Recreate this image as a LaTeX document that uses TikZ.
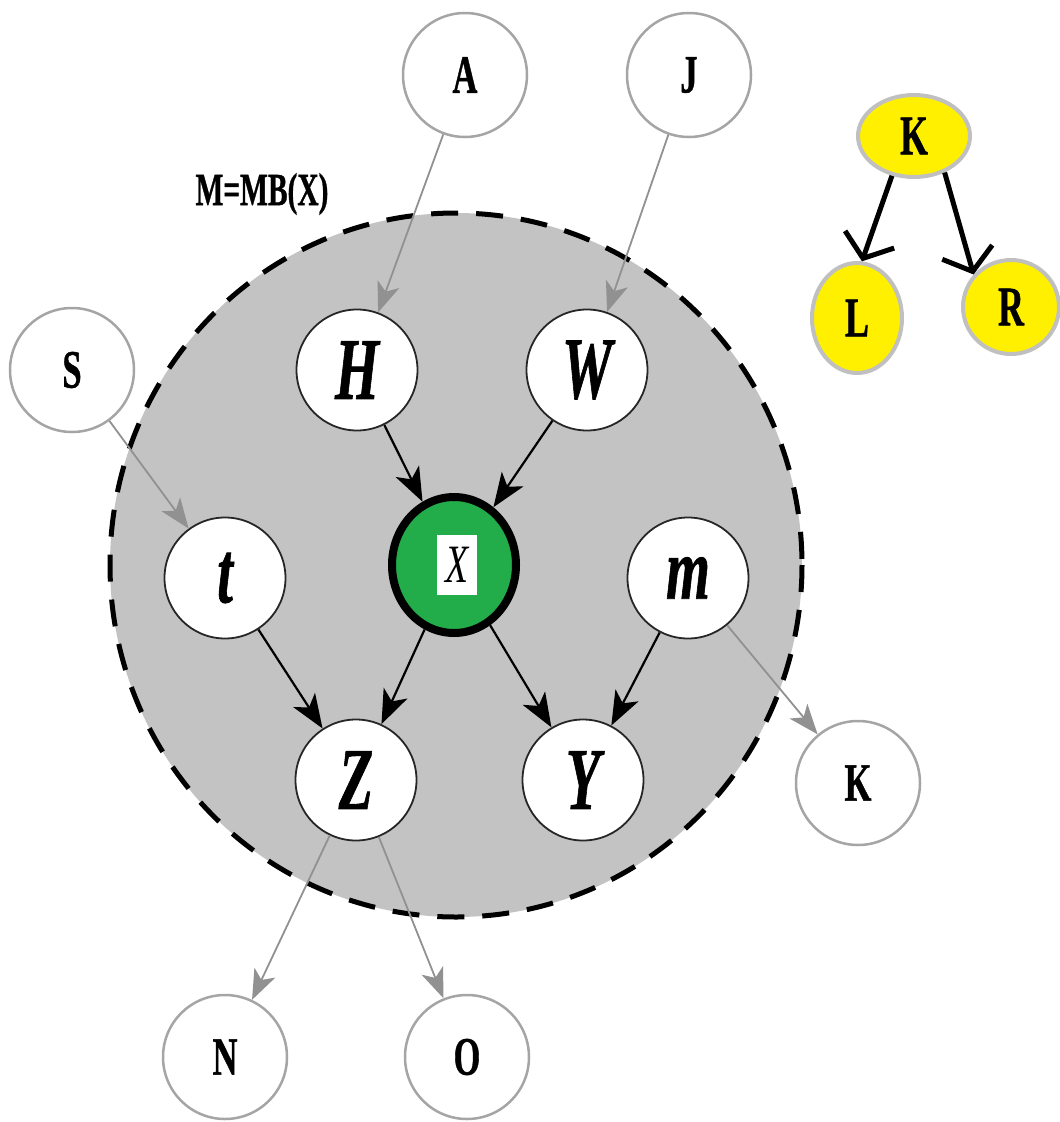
\documentclass[tikz,border=0pt]{standalone}
\usepackage{fontspec}
\usepackage{graphicx}
\setmainfont{Liberation Serif}
\newfontfamily\heavy{Liberation Serif Bold}[FakeBold=1.0]
\newfontfamily\heavyit{Liberation Serif Bold Italic}[FakeBold=1.0]
\usetikzlibrary{arrows.meta,shapes.geometric}

\definecolor{mbfill}{RGB}{195,195,195}
\definecolor{outline}{RGB}{165,165,165}
\definecolor{faint}{RGB}{145,145,145}
\definecolor{xgreen}{RGB}{34,172,74}
\definecolor{yel}{RGB}{255,240,0}
\definecolor{yelborder}{RGB}{192,192,192}

% condensed heavy lettering
\newcommand\cond[2]{\scalebox{0.64}[1]{\fontsize{#1}{#1}\heavy #2}}
\newcommand\condi[2]{\scalebox{0.64}[1]{\fontsize{#1}{#1}\heavyit #2}}

\begin{document}
\begin{tikzpicture}[x=1pt,y=-1pt,
  outernode/.style={circle, draw=outline, line width=2.5pt, fill=white,
    minimum size=124pt, inner sep=0pt},
  innernode/.style={circle, draw=black!85, line width=1.8pt, fill=white,
    minimum size=121pt, inner sep=0pt},
  yelnode/.style={ellipse, draw=yelborder, line width=4pt, fill=yel, inner sep=0pt},
  blackarrow/.style={-{Stealth[length=34pt,width=26pt,inset=9pt]}, line width=2.2pt, draw=black},
  grayarrow/.style={-{Stealth[length=30pt,width=23pt,inset=8pt]}, line width=1.8pt, draw=faint},
  yelarrow/.style={-{Straight Barb[length=20pt,width=52pt]}, line width=5pt, draw=black}
]
\useasboundingbox (0,0) rectangle (1060,1122);

% Markov blanket region
\draw[fill=mbfill, line width=5pt, dash pattern=on 27pt off 18pt]
  (456,565) ellipse [x radius=346, y radius=352];
\node (mblabel) at (262,194) {\cond{46pt}{M=MB(X)}};

% outer variables
\node[outernode] (a) at (465,75) {\cond{54pt}{A}};
\node[outernode] (j) at (689,75) {\cond{54pt}{J}};
\node[outernode] (s) at (72,370) {\cond{54pt}{S}};
\node[outernode] (kout) at (858,783) {\cond{54pt}{K}};
\node[outernode] (n) at (225,1057) {\cond{54pt}{N}};
\node[outernode] (o) at (467,1057) {\cond{54pt}{O}};

% blanket members
\node[innernode] (h) at (357,370) {\condi{88pt}{H}};
\node[innernode] (w) at (587,370) {\condi{88pt}{W}};
\node[innernode] (t) at (225,578) {\condi{88pt}{t}};
\node[innernode] (m) at (688,578) {\condi{88pt}{m}};
\node[innernode] (z) at (356,780) {\condi{88pt}{Z}};
\node[innernode] (y) at (583,780) {\condi{88pt}{Y}};

% target variable
\node[ellipse, draw=black, line width=8pt, fill=xgreen,
  minimum width=124pt, minimum height=136pt, inner sep=0pt] (x) at (454,565) {};
\node[fill=white, minimum width=40pt, minimum height=60pt, inner sep=0pt] (xbox) at (457,565)
  {\scalebox{0.7}[1]{\fontsize{54pt}{54pt}\selectfont\itshape X}};

% arrows inside the blanket
\draw[blackarrow] (h) -- (x);
\draw[blackarrow] (w) -- (x);
\draw[blackarrow] (t) -- (z);
\draw[blackarrow] (x) -- (z);
\draw[blackarrow] (x) -- (y);
\draw[blackarrow] (m) -- (y);

% arrows crossing the boundary
\draw[grayarrow] (a) -- (h);
\draw[grayarrow] (j) -- (w);
\draw[grayarrow] (s) -- (t);
\draw[grayarrow] (m) -- (kout);
\draw[grayarrow] (z) -- (n);
\draw[grayarrow] (z) -- (o);

% small tree
\node[yelnode, minimum width=112pt, minimum height=82pt] (ky) at (914,136) {\cond{56pt}{K}};
\node[yelnode, minimum width=90pt, minimum height=110pt] (ly) at (857,318) {\cond{56pt}{L}};
\node[yelnode, minimum width=96pt, minimum height=94pt] (ry) at (1011,307) {\cond{56pt}{R}};
\draw[yelarrow] (ky.241) -- (ly.85);
\draw[yelarrow] (ky.310) -- (ry.139);
\end{tikzpicture}
\end{document}
